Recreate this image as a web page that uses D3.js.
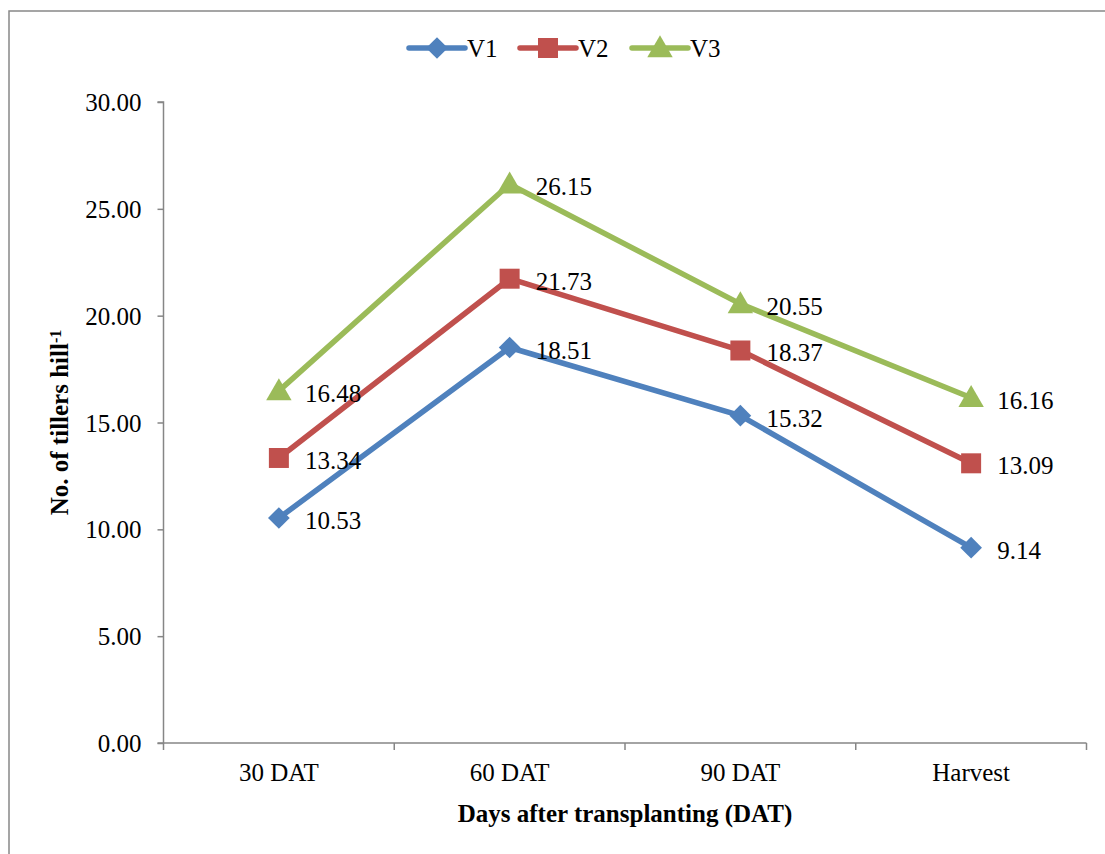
<!DOCTYPE html>
<html>
<head>
<meta charset="utf-8">
<script src="https://cdn.jsdelivr.net/npm/d3@7/dist/d3.min.js"></script>
<style>
  body { margin: 0; background: #fff; }
  svg text { font-family: "Liberation Serif", "Times New Roman", serif !important; fill: #000; }
</style>
</head>
<body>
<svg id="svg"></svg>
<script>
var categories = ["30 DAT", "60 DAT", "90 DAT", "Harvest"];
var v1 = [10.53, 18.51, 15.32, 9.14];
var v2 = [13.34, 21.73, 18.37, 13.09];
var v3 = [16.48, 26.15, 20.55, 16.16];
var yTicks = [0, 5, 10, 15, 20, 25, 30];

var series = [
  { name: "V1", values: v1, color: "#4F81BD", shape: "diamond" },
  { name: "V2", values: v2, color: "#C0504D", shape: "square" },
  { name: "V3", values: v3, color: "#9BBB59", shape: "triangle" }
];

var width = 1105, height = 854;
var serif = '"Liberation Serif", "Times New Roman", serif';
var svg = d3.select("#svg").attr("width", width).attr("height", height)
    .attr("font-family", serif);

// outer frame
svg.append("rect")
    .attr("x", 9).attr("y", 11)
    .attr("width", 1110).attr("height", 860)
    .attr("fill", "none").attr("stroke", "#888").attr("stroke-width", 1.5);

var plotLeft = 163.5, plotRight = 1086.5, plotTop = 102, plotBottom = 743;

var x = d3.scaleBand().domain(categories).range([plotLeft, plotRight]);
var y = d3.scaleLinear().domain([0, 30]).range([plotBottom, plotTop]);

// y axis
var yAxis = svg.append("g")
    .attr("transform", "translate(" + plotLeft + ",0)")
    .call(d3.axisLeft(y).tickValues(yTicks).tickSize(6).tickPadding(16)
      .tickFormat(function(d) { return d.toFixed(2); }));
yAxis.attr("font-family", serif);
yAxis.selectAll("text").style("font-size", "25px").attr("dy", "0.34em");

// x axis
var xAxis = svg.append("g")
    .attr("transform", "translate(0," + plotBottom + ")")
    .call(d3.axisBottom(x).tickSize(0).tickPadding(20));
xAxis.attr("font-family", serif);
xAxis.selectAll("text").style("font-size", "25px");
xAxis.selectAll(".tick line").remove();
// boundary ticks between categories
var edges = categories.map(function(c) { return x(c); }).concat([x.range()[1]]);
xAxis.selectAll(".edge").data(edges).enter().append("line")
    .attr("class", "edge")
    .attr("x1", function(d) { return d; }).attr("x2", function(d) { return d; })
    .attr("y1", 0).attr("y2", 7);

svg.selectAll(".domain, .tick line, .edge")
    .attr("stroke", "#868686").attr("stroke-width", 1.5);
yAxis.select(".domain").attr("d", "M-6," + plotTop + "H0V" + plotBottom + "H-6");
xAxis.select(".domain").attr("d", "M" + plotLeft + ",0H" + plotRight);

var cx = function(i) { return x(categories[i]) + x.bandwidth() / 2; };

var sym = {
  diamond: d3.symbol().type(d3.symbolDiamond2).size(300),
  square: d3.symbol().type(d3.symbolSquare).size(400),
  triangle: d3.symbol().type(d3.symbolTriangle).size(280)
};

var line = d3.line()
    .x(function(d, i) { return cx(i); })
    .y(function(d) { return y(d); });

series.forEach(function(s) {
  var g = svg.append("g");
  g.append("path")
      .attr("d", line(s.values))
      .attr("fill", "none")
      .attr("stroke", s.color)
      .attr("stroke-width", 5.5)
      .attr("stroke-linejoin", "round")
      .attr("stroke-linecap", "round");
  g.selectAll("path.pt").data(s.values).enter().append("path")
      .attr("class", "pt")
      .attr("d", sym[s.shape])
      .attr("transform", function(d, i) {
        var dy = s.shape == "triangle" ? 2 : 0;
        return "translate(" + cx(i) + "," + (y(d) + dy) + ")";
      })
      .attr("fill", s.color);
  g.selectAll("text").data(s.values).enter().append("text")
      .attr("x", function(d, i) { return cx(i) + 26; })
      .attr("y", function(d) { return y(d) + 2; })
      .attr("dy", "0.36em")
      .style("font-size", "25px")
      .text(function(d) { return d.toFixed(2); });
});

// legend
var legendX = [409, 520, 632];
series.forEach(function(s, i) {
  var g = svg.append("g").attr("transform", "translate(" + legendX[i] + ",48)");
  g.append("line").attr("x1", 0).attr("x2", 56).attr("y1", 0).attr("y2", 0)
      .attr("stroke", s.color).attr("stroke-width", 5.5).attr("stroke-linecap", "round");
  g.append("path").attr("d", sym[s.shape])
      .attr("transform", "translate(28," + (s.shape == "triangle" ? 2 : 0) + ")")
      .attr("fill", s.color);
  g.append("text").attr("x", 58).attr("y", 0).attr("dy", "0.35em")
      .style("font-size", "25px").text(s.name);
});

// axis titles
svg.append("text")
    .attr("x", (plotLeft + plotRight) / 2).attr("y", 822)
    .attr("text-anchor", "middle")
    .style("font-size", "25px").style("font-weight", "bold")
    .text("Days after transplanting (DAT)");

var yt = svg.append("text")
    .attr("transform", "translate(68," + (plotTop + plotBottom) / 2 + ") rotate(-90)")
    .attr("text-anchor", "middle")
    .style("font-size", "25px").style("font-weight", "bold");
yt.append("tspan").text("No. of tillers hill");
yt.append("tspan").attr("dy", "-0.45em").style("font-size", "16px").text("-1");
</script>
</body>
</html>
